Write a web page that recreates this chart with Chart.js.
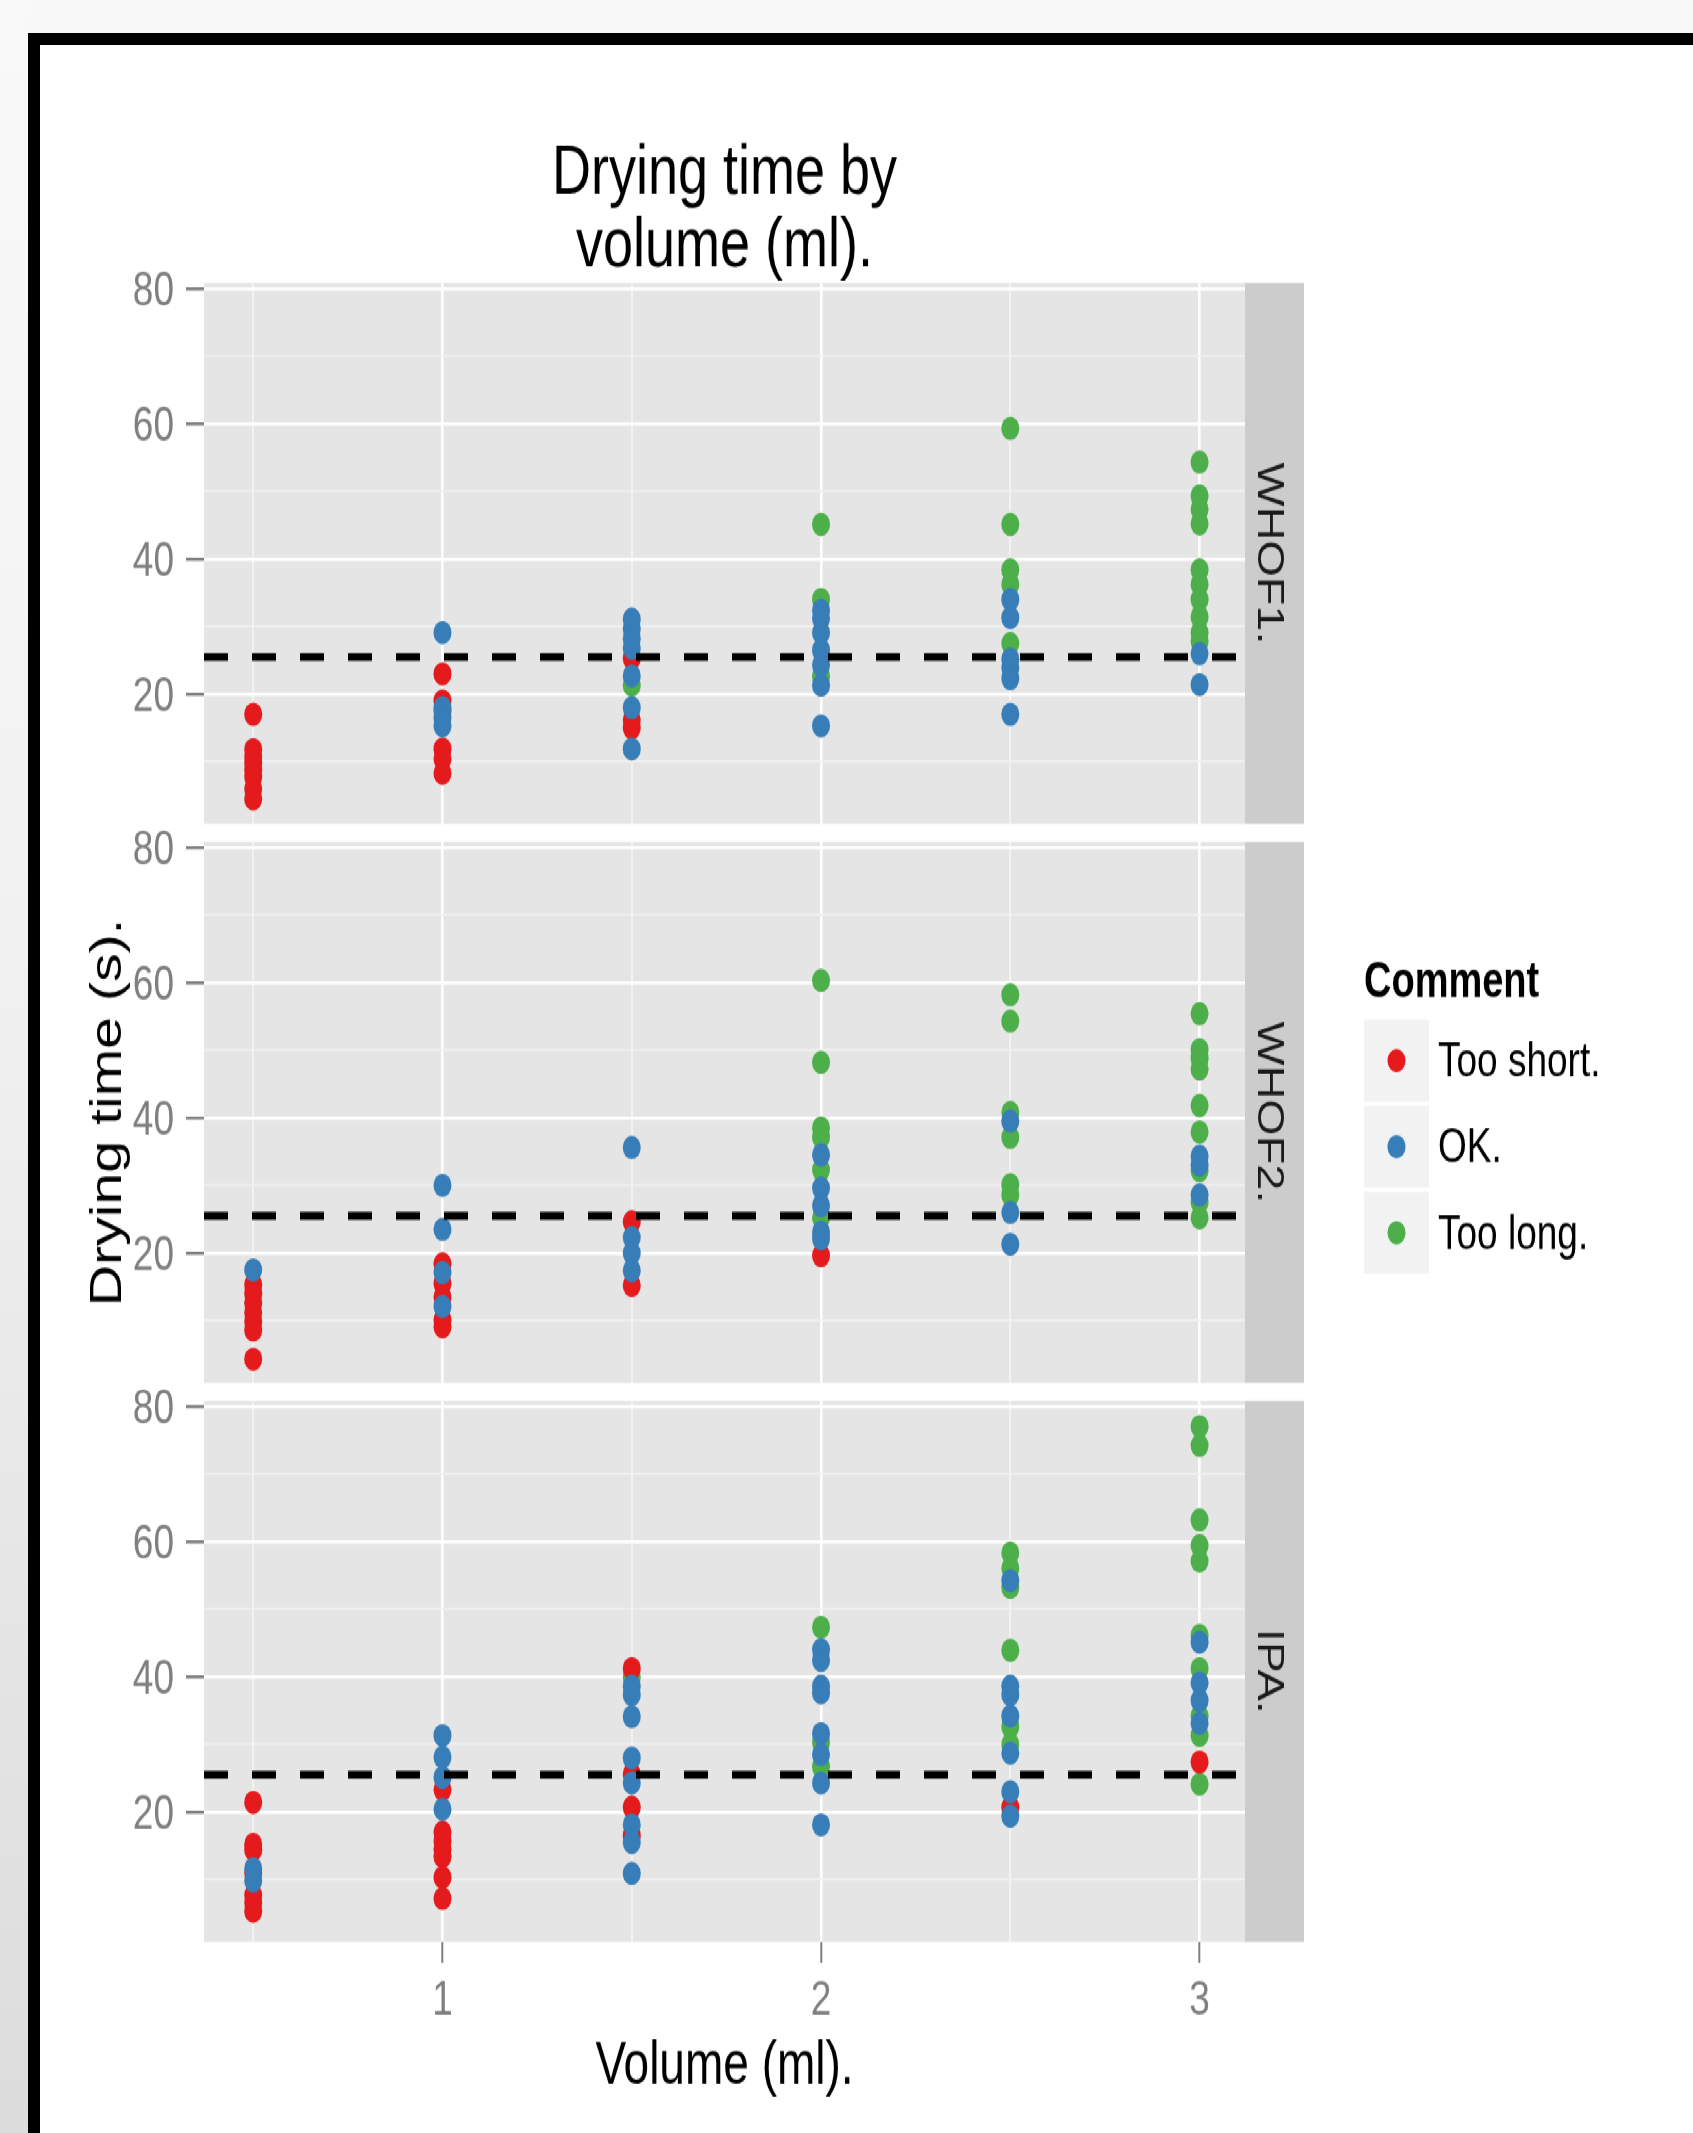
<!DOCTYPE html>
<html>
<head>
<meta charset="utf-8">
<title>Drying time by volume (ml).</title>
<script src="https://cdn.jsdelivr.net/npm/chart.js@4.4.1/dist/chart.umd.min.js"></script>
<style>
  html, body { margin: 0; padding: 0; }
  body { width: 1693px; height: 2133px; overflow: hidden; position: relative; background: #f8f8f8; }
  #shade { position: absolute; left: 0; top: 0; width: 28px; height: 2133px;
           background: linear-gradient(to bottom, #f9f9f9 0%, #f1f1f1 45%, #dcdcdc 100%); }
  #frame { position: absolute; left: 28px; top: 33px; width: 1700px; height: 2200px;
           border-left: 12px solid #000; border-top: 12px solid #000; background: #fff; }
  /* the original picture is stretched vertically, so the whole chart is too */
  #stage { position: absolute; left: 0; top: 0; width: 1693px; height: 1641px;
           transform: scaleY(1.29982); transform-origin: 0 0; }
  #stage canvas { position: absolute; left: 0; top: 0; }
</style>
</head>
<body>
<div id="shade"></div>
<div id="frame"></div>
<div id="stage">
  <canvas id="panel0" width="1693" height="1641"></canvas>
  <canvas id="panel1" width="1693" height="1641"></canvas>
  <canvas id="panel2" width="1693" height="1641"></canvas>
</div>
<script>
// ---- data ----
const volumes = [0.5, 1, 1.5, 2, 2.5, 3];
const facets = ['WHOF1.', 'WHOF2.', 'IPA.'];
const comments = ['Too short.', 'OK.', 'Too long.'];
const threshold = 25.5;
const xLabels = [1, 2, 3];
const xMinor = [0.5, 1.5, 2.5];
const yLabels = [20, 40, 60, 80];
const yMinor = [10, 30, 50, 70];

// one inner list per volume (0.5 ... 3 ml)
const whof1Short = [[17, 11.8, 10.8, 9.8, 8.8, 7.8, 6, 4.5], [23, 19, 17.5, 11.9, 10.4, 8.3], [25.3, 16.2, 15], [], [], []];
const whof1Ok = [[], [29.1, 18, 16.5, 15.3], [31.1, 29.6, 28.2, 26.8, 22.7, 18, 11.9], [32.4, 31.2, 29.1, 26.5, 24.3, 21.3, 15.3], [34, 31.3, 25.2, 23.9, 22.3, 17], [26, 21.4]];
const whof1Long = [[], [], [21.3], [45.1, 34, 22.6], [59.3, 45.1, 38.4, 36.2, 27.5], [54.3, 49.3, 47.3, 45.2, 38.4, 36.2, 34, 31.4, 29.1, 27.8]];

const whof2Short = [[15.3, 14, 12.6, 11.2, 9.9, 8.6, 4.3], [18.4, 15.5, 13.5, 10.1, 9.1], [24.6, 15.2], [19.6], [], []];
const whof2Ok = [[17.5], [30, 23.5, 17.1, 12.1], [35.6, 22.3, 20, 17.4], [34.5, 29.6, 27, 23.1, 22.1], [39.5, 26, 21.3], [34.3, 33, 28.6]];
const whof2Long = [[], [], [], [60.3, 48.2, 38.5, 37.1, 32.3, 25.2], [58.2, 54.3, 40.8, 37.1, 30.1, 28.6], [55.4, 50.1, 48.8, 47.2, 41.8, 37.9, 32.2, 27.5, 25.2]];

const ipaShort = [[21.4, 15.2, 14.4, 11, 7.7, 6.6, 5.3], [23.3, 17, 15.7, 14.5, 13.4, 10.3, 7.2], [41.2, 25.6, 20.7, 16.5], [], [20.7], [27.4]];
const ipaOk = [[11.6, 9.8], [31.3, 28.1, 25.1, 20.4], [38.6, 37.3, 34.1, 28, 24.3, 18.1, 15.5, 10.9], [44, 42.4, 38.6, 37.6, 31.6, 28.5, 24.3, 18.1], [54.2, 38.6, 37.3, 34.2, 28.7, 23, 19.4], [45.1, 39.1, 36.5, 33.1]];
const ipaLong = [[], [], [39.9], [47.3, 30.3, 26.7], [58.3, 56, 53.2, 43.9, 32.6, 30], [77, 74.2, 63.2, 59.4, 57.1, 46.1, 41.2, 34.2, 31.3, 24.1]];

const panelData = [
  [whof1Short, whof1Ok, whof1Long],
  [whof2Short, whof2Ok, whof2Long],
  [ipaShort, ipaOk, ipaLong]
];

// ---- look ----
const colours = ['#E41A1C', '#377EB8', '#4DAF4A'];
const drawOrder = [2, 1, 3]; // lower = drawn on top
const FONT = "'Liberation Sans', Arial, Helvetica, sans-serif";
const W = 1693, H = 1641;
const PLOT_RIGHT = 1245, AXIS_W = 204, STRIP_W = 59;
const PANEL_TOP = [217.7, 647.7, 1077.7], PANEL_H = 416.2;
const X_RANGE = [0.37, 3.12], Y_RANGE = [0.8, 80.8];
const GREY_TEXT = '#7f7f7f';

const toPoints = byVolume => byVolume.flatMap((vals, i) => vals.map(v => ({ x: volumes[i], y: v })));

// grey panel background + facet strip on the right
const facetPlugin = {
  id: 'facetStrip',
  beforeDraw(chart, args, opts) {
    const { ctx, chartArea: a } = chart;
    ctx.save();
    ctx.fillStyle = '#e5e5e5';
    ctx.fillRect(a.left, a.top, a.right - a.left, a.bottom - a.top);
    ctx.fillStyle = '#cccccc';
    ctx.fillRect(a.right, a.top, STRIP_W, a.bottom - a.top);
    ctx.translate(a.right + 23, (a.top + a.bottom) / 2);
    ctx.rotate(Math.PI / 2);
    ctx.fillStyle = '#1a1a1a';
    ctx.font = '36px ' + FONT;
    ctx.textAlign = 'center';
    ctx.textBaseline = 'middle';
    ctx.fillText(opts.label, 0, 0);
    ctx.restore();
  }
};

// "Comment" legend beside the middle panel
const keyPlugin = {
  id: 'commentKey',
  afterDraw(chart, args, opts) {
    if (!opts.show) return;
    const ctx = chart.ctx;
    const left = 1364, top = 784.5, pitch = 66.2, keyW = 65, keyH = 63;
    ctx.save();
    ctx.textAlign = 'left';
    ctx.textBaseline = 'middle';
    ctx.fillStyle = '#000';
    ctx.font = 'bold 38px ' + FONT;
    ctx.fillText('Comment', left, 756.5);
    ctx.font = '37px ' + FONT;
    comments.forEach((label, i) => {
      const y = top + i * pitch;
      ctx.fillStyle = '#f2f2f2';
      ctx.fillRect(left, y, keyW, keyH);
      ctx.fillStyle = colours[i];
      ctx.beginPath();
      ctx.arc(left + 32.5, y + keyH / 2, 9, 0, Math.PI * 2);
      ctx.fill();
      ctx.fillStyle = '#000';
      ctx.fillText(label, 1438, y + keyH / 2 + 2);
    });
    ctx.restore();
  }
};

function makePanel(idx) {
  const isTop = idx === 0;
  const isBottom = idx === 2;
  const panelBottom = PANEL_TOP[idx] + PANEL_H;

  const datasets = comments.map((label, c) => ({
    type: 'scatter',
    label: label,
    data: toPoints(panelData[idx][c]),
    backgroundColor: colours[c],
    pointRadius: 9,
    pointHoverRadius: 9,
    pointBorderWidth: 0,
    order: drawOrder[c]
  }));
  datasets.push({
    type: 'line',
    label: 'limit',
    data: [{ x: X_RANGE[0], y: threshold }, { x: X_RANGE[1], y: threshold }],
    borderColor: '#000',
    borderWidth: 6,
    borderDash: [24, 24],
    pointRadius: 0,
    order: 0
  });

  const isMajorX = c => c.tick && xLabels.includes(c.tick.value);
  const isMajorY = c => c.tick && yLabels.includes(c.tick.value);

  return new Chart(document.getElementById('panel' + idx), {
    type: 'scatter',
    data: { datasets },
    options: {
      responsive: false,
      animation: false,
      devicePixelRatio: 1,
      events: [],
      layout: {
        padding: {
          left: 0,
          right: W - PLOT_RIGHT,
          top: isTop ? 20 : PANEL_TOP[idx],
          bottom: isBottom ? 10 : H - panelBottom
        }
      },
      plugins: {
        legend: { display: false },
        tooltip: { enabled: false },
        title: {
          display: isTop,
          text: ['Drying time by', 'volume (ml).'],
          color: '#000',
          fullSize: false,
          font: { family: FONT, size: 54, weight: 'normal', lineHeight: 56 / 54 },
          padding: { top: 85.7, bottom: 0 }
        },
        facetStrip: { label: facets[idx] },
        commentKey: { show: idx === 1 }
      },
      scales: {
        x: {
          type: 'linear',
          min: X_RANGE[0],
          max: X_RANGE[1],
          afterBuildTicks: s => { s.ticks = [...xMinor, ...xLabels].sort((a, b) => a - b).map(v => ({ value: v })); },
          afterFit: s => { s.height = isBottom ? (H - 10) - panelBottom : 0; },
          border: { display: false },
          grid: {
            color: c => isMajorX(c) ? '#ffffff' : '#f2f2f2',
            lineWidth: c => isMajorX(c) ? 2.6 : 2,
            drawTicks: isBottom,
            tickLength: 16.2,
            tickWidth: 2,
            tickColor: c => isMajorX(c) ? GREY_TEXT : 'rgba(0,0,0,0)'
          },
          ticks: {
            display: isBottom,
            autoSkip: false,
            maxRotation: 0,
            minRotation: 0,
            padding: 7.5,
            color: GREY_TEXT,
            font: { family: FONT, size: 37 },
            callback: v => xLabels.includes(v) ? String(v) : ''
          },
          title: {
            display: isBottom,
            text: 'Volume (ml).',
            color: '#000',
            font: { family: FONT, size: 46 },
            padding: { top: 0, bottom: 13.5 }
          }
        },
        y: {
          type: 'linear',
          min: Y_RANGE[0],
          max: Y_RANGE[1],
          afterBuildTicks: s => { s.ticks = [...yMinor, ...yLabels].sort((a, b) => a - b).map(v => ({ value: v })); },
          afterFit: s => { s.width = AXIS_W; },
          border: { display: false },
          grid: {
            color: c => isMajorY(c) ? '#ffffff' : '#f2f2f2',
            lineWidth: c => isMajorY(c) ? 2.4 : 1.6,
            tickLength: 18,
            tickWidth: 2.4,
            tickColor: c => isMajorY(c) ? GREY_TEXT : 'rgba(0,0,0,0)'
          },
          ticks: {
            autoSkip: false,
            padding: 12,
            labelOffset: 3,
            color: GREY_TEXT,
            font: { family: FONT, size: 37 },
            callback: v => yLabels.includes(v) ? String(v) : ''
          },
          title: {
            display: idx === 1,
            text: 'Drying time (s).',
            color: '#000',
            font: { family: FONT, size: 44 },
            padding: { top: 82, bottom: 0 }
          }
        }
      }
    },
    plugins: [facetPlugin, keyPlugin]
  });
}

facets.forEach((f, i) => makePanel(i));
</script>
</body>
</html>
